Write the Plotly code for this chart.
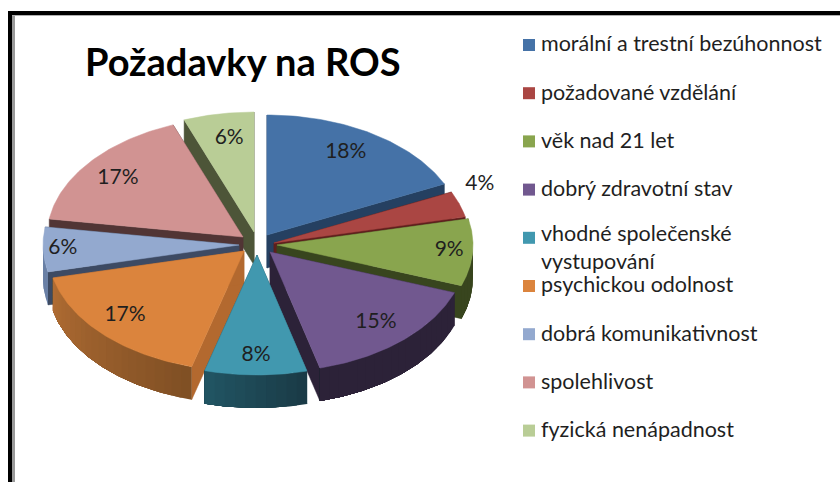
import math
import plotly.graph_objects as go

# --- data ---
categories = ["morální a trestní bezúhonnost", "požadované vzdělání", "věk nad 21 let",
              "dobrý zdravotní stav", "vhodné společenské<br>vystupování", "psychickou odolnost",
              "dobrá komunikativnost", "spolehlivost", "fyzická nenápadnost"]
values = [18.0, 3.5, 9.0, 15.4, 8.4, 17.1, 6.0, 16.8, 5.8]
title = "Požadavky na ROS"

# --- style ---
top_colors = ["#4572a7", "#aa4643", "#89a54e", "#71588f", "#4198af", "#db843d", "#93a9cf", "#d19392", "#b9cd96"]
edge_colors = ["#254061", "#5e1f1d", "#38451e", "#2c2238", "#1c4552", "#b3692f", "#3d4a63", "#513535", "#4d5538"]
rim_left = ["#254061", "#5e1f1d", "#38451e", "#2c2238", "#215564", "#b06c33", "#6a80a6", "#513535", "#4d5538"]
rim_right = ["#254061", "#5e1f1d", "#38451e", "#2c2238", "#1a3a45", "#7f4f24", "#6a80a6", "#513535", "#4d5538"]
explode_x = [10, 17, 20, 13, 0, -13, -18, -14, -3]
explode_y = [-8, 0, 2, 9, 12, 8, 2, -6, -11]
label_fx = [0.75, 1.11, 0.88, 0.80, 0.82, 0.84, 0.90, 0.82, 0.70]
label_fy = [0.81, 1.50, 0.80, 0.80, 0.84, 0.78, 0.80, 0.78, 0.79]
paint_order = [0, 8, 7, 1, 6, 2, 5, 3, 4]
FONT = "Lato"
CX, CY, RX, RY, DEPTH = 257, 243, 196, 120, 33
TEXT = "#1f1f1f"


def mix(a, b, t):
    pa = [int(a[i:i + 2], 16) for i in (1, 3, 5)]
    pb = [int(b[i:i + 2], 16) for i in (1, 3, 5)]
    return "rgb(%d,%d,%d)" % tuple(round(p + (q - p) * t) for p, q in zip(pa, pb))


def poly(fig, xs, ys, color, width=0.5):
    fig.add_trace(go.Scatter(x=xs + xs[:1], y=ys + ys[:1], mode="lines", fill="toself", fillcolor=color,
                             line=dict(color=color, width=width), hoverinfo="skip", showlegend=False))


fig = go.Figure()
total = sum(values)
starts = [sum(values[:i]) / total * 2 * math.pi for i in range(len(values))]
ends = [sum(values[:i + 1]) / total * 2 * math.pi for i in range(len(values))]


def rim(ax, ay, a):
    return ax + RX * math.sin(a), ay - RY * math.cos(a)


for i in paint_order:
    ax, ay = CX + explode_x[i], CY + explode_y[i]
    a0, a1 = starts[i], ends[i]
    # radial side walls
    for a in (a0, a1):
        px, py = rim(ax, ay, a)
        poly(fig, [ax, px, px, ax], [ay, py, py + DEPTH, ay + DEPTH], edge_colors[i])
    # outer wall, front half only; each band runs on to the end of the arc so no seams show
    lo, hi = max(a0, math.pi / 2), min(a1, 3 * math.pi / 2)
    if hi > lo:
        n = max(2, int((hi - lo) / 0.05))
        for k in range(n):
            arc = [rim(ax, ay, lo + (hi - lo) * j / 80) for j in range(round(80 * k / n), 81)]
            xs = [p[0] for p in arc]
            ys = [p[1] for p in arc]
            poly(fig, xs + xs[::-1], ys + [y + DEPTH for y in ys[::-1]],
                 mix(rim_right[i], rim_left[i], (k + 0.5) / n), width=0)
    # top face
    n = 60
    arc = [rim(ax, ay, a0 + (a1 - a0) * k / n) for k in range(n + 1)]
    poly(fig, [ax] + [p[0] for p in arc], [ay] + [p[1] for p in arc], top_colors[i])

# percentage labels
lx, ly, lt = [], [], []
for i, v in enumerate(values):
    m = (starts[i] + ends[i]) / 2
    lx.append(CX + explode_x[i] + label_fx[i] * RX * math.sin(m))
    ly.append(CY + explode_y[i] - label_fy[i] * RY * math.cos(m))
    lt.append(f"{round(v)}%")
fig.add_trace(go.Scatter(x=lx, y=ly, text=lt, mode="text", textposition="middle center",
                         textfont=dict(family=FONT, size=21, color=TEXT), hoverinfo="skip", showlegend=False))

# legend column
row_y = [45 + 48.2 * i for i in range(len(categories))]
fig.add_trace(go.Scatter(x=[529] * len(categories), y=row_y, mode="markers",
                         marker=dict(symbol="square", size=12, color=top_colors, line=dict(width=0)),
                         hoverinfo="skip", showlegend=False))
text_y = [y + 1 + 11 * c.count("<br>") for y, c in zip(row_y, categories)]
fig.add_trace(go.Scatter(x=[541] * len(categories), y=text_y, text=categories, mode="text",
                         textposition="middle right",
                         textfont=dict(family=FONT, size=21.5, color=TEXT), hoverinfo="skip", showlegend=False))

fig.add_annotation(x=243, y=61, text=f"<b>{title}</b>", showarrow=False, xanchor="center", yanchor="middle",
                   font=dict(family=FONT, size=38, color="#000000"))

# picture frame
fig.add_shape(type="line", x0=13.5, x1=13.5, y0=15, y1=482, line=dict(color="#9a9a9a", width=3), layer="below")
fig.add_shape(type="line", x0=12, x1=840, y0=15.5, y1=15.5, line=dict(color="#b0b0b0", width=1), layer="below")
fig.add_shape(type="line", x0=10, x1=10, y0=11, y1=482, line=dict(color="#000000", width=4), layer="below")
fig.add_shape(type="line", x0=8, x1=840, y0=13, y1=13, line=dict(color="#000000", width=4), layer="below")

fig.update_xaxes(range=[0, 840], visible=False, fixedrange=True)
fig.update_yaxes(range=[482, 0], visible=False, fixedrange=True)
fig.update_layout(width=840, height=482, margin=dict(l=0, r=0, t=0, b=0), plot_bgcolor="white",
                  paper_bgcolor="white", showlegend=False)
fig.write_html("out.html", config=dict(displayModeBar=False),
               post_script="document.body.style.margin='0';document.body.style.overflow='hidden';")
